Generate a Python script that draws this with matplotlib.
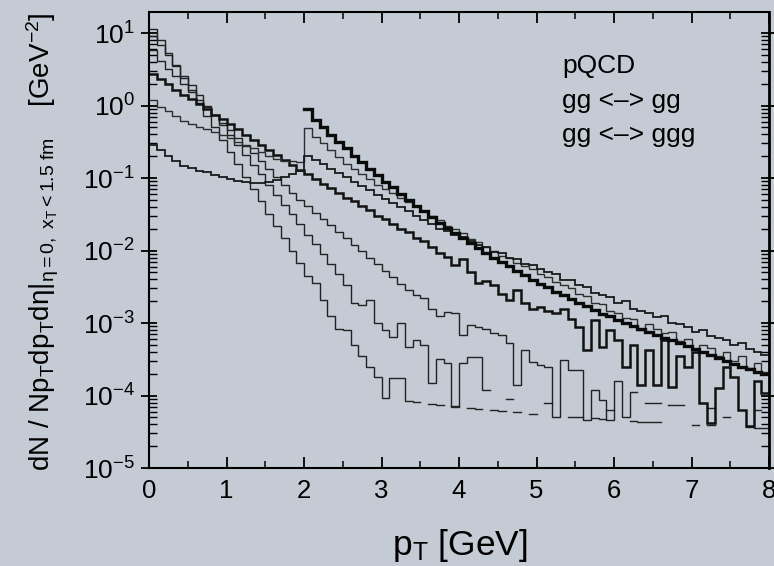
import numpy as np
import matplotlib
matplotlib.use("Agg")
import matplotlib.pyplot as plt
from matplotlib.ticker import LogLocator, NullFormatter, FuncFormatter, MultipleLocator

nan = np.nan

# bin width of all histograms (GeV)
bin_width = 0.1

# log10 of dN/(N pT dpT deta) per bin; nan = empty bin
# initial pQCD minijets (pT > 2 GeV)
t0_log = [-0.05, -0.20, -0.30, -0.40, -0.50, -0.59, -0.69, -0.78, -0.87, -0.96,
          -1.05, -1.13, -1.22, -1.30, -1.38, -1.46, -1.54, -1.62, -1.69, -1.76,
          -1.83, -1.90, -1.97, -2.03, -2.10, -2.16, -2.22, -2.28, -2.34, -2.40,
          -2.46, -2.51, -2.57, -2.62, -2.67, -2.72, -2.77, -2.82, -2.87, -2.91,
          -2.96, -3.00, -3.04, -3.08, -3.12, -3.16, -3.20, -3.24, -3.28, -3.32,
          -3.36, -3.40, -3.44, -3.48, -3.52, -3.56, -3.60, -3.64, -3.67, -3.71]
t0_start = 2.0

a_log = [0.07, -0.02, -0.08, -0.15, -0.22, -0.26, -0.29, -0.33, -0.37, -0.41,
         -0.45, -0.50, -0.54, -0.59, -0.64, -0.69, -0.74, -0.77, -0.76, -0.78,
         -0.31, -0.43, -0.52, -0.62, -0.71, -0.80, -0.88, -0.95, -1.02, -1.09,
         -1.15, -1.21, -1.27, -1.33, -1.39, -1.45, -1.52, -1.58, -1.66, -1.71,
         -1.76, -1.84, -1.88, -1.95, -2.00, -2.07, -2.10, -2.17, -2.22, -2.26,
         -2.33, -2.36, -2.44, -2.47, -2.52, -2.60, -2.63, -2.72, -2.74, -2.83,
         -2.86, -2.93, -2.95, -3.10, -3.02, -3.08, -3.14, -3.12, -3.25, -3.22,
         -3.37, -3.30, -3.34, -3.46, -3.40, -3.52, -3.45, -3.62, -3.55, -3.68]

b_log = [-0.55, -0.62, -0.70, -0.76, -0.83, -0.86, -0.90, -0.92, -0.96, -0.99,
         -1.02, -1.04, -1.06, -1.07, -1.07, -1.06, -1.03, -0.99, -0.95, -0.90,
         -0.69, -0.75, -0.81, -0.87, -0.93, -0.99, -1.05, -1.11, -1.17, -1.23,
         -1.29, -1.34, -1.40, -1.46, -1.52, -1.58, -1.63, -1.70, -1.73, -1.79,
         -1.82, -1.87, -1.92, -1.95, -2.02, -2.04, -2.10, -2.12, -2.19, -2.20,
         -2.26, -2.30, -2.33, -2.40, -2.41, -2.48, -2.50, -2.58, -2.61, -2.64,
         -2.72, -2.70, -2.80, -2.83, -2.86, -2.92, -2.90, -3.00, -3.02, -3.05,
         -3.12, -3.10, -3.18, -3.20, -3.24, -3.30, -3.27, -3.36, -3.40, -3.44]

c_log = [0.44, 0.37, 0.30, 0.22, 0.15, 0.09, 0.02, -0.05, -0.13, -0.19,
         -0.26, -0.33, -0.40, -0.47, -0.54, -0.61, -0.68, -0.75, -0.82, -0.89,
         -0.95, -1.01, -1.08, -1.14, -1.20, -1.27, -1.32, -1.39, -1.44, -1.52,
         -1.57, -1.63, -1.70, -1.74, -1.83, -1.87, -1.95, -2.03, -2.09, -2.20,
         -2.12, -2.30, -2.45, -2.42, -2.47, -2.60, -2.68, -2.55, -2.73, -2.80,
         -2.78, -2.84, -2.86, -2.80, -2.95, -3.06, -3.37, -2.96, -3.33, -3.10,
         -3.23, -3.60, -3.30, -3.86, -3.37, -3.85, -3.23, -3.88, -3.45, -3.60,
         -3.40, -4.10, -4.38, -3.90, -3.60, -3.75, -4.20, -4.42, -3.80, -3.97]

d_log = [0.77, 0.62, 0.51, 0.41, 0.30, 0.19, 0.08, -0.02, -0.13, -0.24,
         -0.34, -0.45, -0.56, -0.66, -0.77, -0.88, -0.98, -1.09, -1.20, -1.30,
         -1.39, -1.48, -1.56, -1.65, -1.74, -1.83, -1.92, -2.01, -2.10, -2.19,
         -2.28, -2.37, -2.46, -2.55, -2.62, -2.66, -2.80, -2.91, -2.85, -2.86,
         -3.17, -3.03, -3.05, -3.08, -3.14, -3.16, -3.28, -3.85, -3.37, -3.54,
         -3.58, -3.60, -4.30, -3.51, -3.65, -3.65, -4.34, -3.92, -4.06, -4.34,
         -3.80, -4.30, -3.95, nan, -4.10, -4.10, nan, -4.13, -4.13, nan,
         nan, nan, -4.17, nan, nan, nan, nan, nan, -4.20, nan]

e_log = [0.96, 0.83, 0.69, 0.55, 0.41, 0.28, 0.14, 0.00, -0.13, -0.27,
         -0.41, -0.54, -0.68, -0.82, -0.95, -1.09, -1.23, -1.37, -1.50, -1.64,
         -1.78, -1.91, -2.05, -2.19, -2.32, -2.48, -2.72, -2.75, -2.68, -3.00,
         -3.10, -3.19, -3.00, -3.33, -3.24, -3.30, -3.83, -3.50, -3.55, -4.16,
         -3.55, -3.47, -3.47, -3.93, nan, nan, -4.05, nan, nan, nan,
         nan, -4.10, nan, nan, nan, nan, nan, nan, nan, -4.20,
         nan, nan, nan, nan, nan, nan, nan, nan, nan, nan,
         nan, nan, nan, nan, -4.30, nan, nan, nan, nan, nan]

f_log = [1.06, 0.90, 0.72, 0.56, 0.38, 0.21, 0.04, -0.14, -0.30, -0.47,
         -0.64, -0.81, -0.98, -1.15, -1.32, -1.49, -1.66, -1.83, -2.00, -2.17,
         -2.35, -2.45, -2.68, -2.90, -3.08, -3.10, -3.30, -3.45, -3.60, -3.74,
         -4.03, -3.76, -3.76, -4.07, -4.09, nan, -4.12, -4.13, nan, -4.15,
         nan, -4.17, -4.18, nan, -4.20, -4.21, nan, -4.23, nan, -4.25,
         nan, nan, nan, nan, -4.29, -4.30, nan, -4.31, -4.32, nan,
         nan, nan, -4.35, -4.36, -4.36, -4.37, nan, nan, nan, nan,
         -4.40, nan, -4.41, nan, nan, nan, nan, -4.44, -4.45, -4.45]

annotation_lines = ["pQCD", "gg <\u2013> gg", "gg <\u2013> ggg"]
x_ticks = [0, 1, 2, 3, 4, 5, 6, 7, 8]

bg = "#c4cbd4"
plt.rcParams["font.family"] = ["Liberation Sans", "DejaVu Sans"]
plt.rcParams["mathtext.fontset"] = "custom"
plt.rcParams["mathtext.rm"] = "Liberation Sans"
plt.rcParams["mathtext.it"] = "Liberation Sans:italic"

fig = plt.figure(figsize=(7.74, 5.66), dpi=100, facecolor=bg)
ax = fig.add_axes([149 / 774, 1 - 468 / 566, 620 / 774, 456 / 566])
ax.set_facecolor(bg)


def draw(logs, start, lw, color):
    vals = 10.0 ** np.array(logs, dtype=float)
    n = len(vals)
    edges = start + np.arange(n + 1) * bin_width
    yy = np.append(vals, vals[-1])
    ax.step(edges, yy, where="post", lw=lw, color=color, solid_joinstyle="miter")


draw(f_log, 0.0, 1.0, "#222222")
draw(e_log, 0.0, 1.0, "#222222")
draw(d_log, 0.0, 1.0, "#222222")
draw(c_log, 0.0, 1.8, "#111111")
draw(a_log, 0.0, 1.0, "#2e2e2e")
draw(b_log, 0.0, 1.3, "#1a1a1a")
draw(t0_log, t0_start, 2.4, "#0a0a0a")

ax.set_yscale("log")
ax.set_xlim(0, 8)
ax.set_ylim(1e-5, 10 ** 1.29)

ax.xaxis.set_minor_locator(MultipleLocator(0.5))
ax.set_xticks(x_ticks)
ax.yaxis.set_major_locator(LogLocator(base=10, numticks=20))
ax.yaxis.set_minor_locator(LogLocator(base=10, subs=np.arange(2, 10), numticks=100))
ax.yaxis.set_minor_formatter(NullFormatter())
ax.yaxis.set_major_formatter(FuncFormatter(
    lambda v, p: r"$\mathregular{10^{%d}}$" % int(round(np.log10(v)))))

ax.tick_params(axis="x", which="major", direction="in", length=8, width=1.3,
               top=True, labelsize=18.5, pad=8)
ax.tick_params(axis="x", which="minor", direction="in", length=5, width=1.1, top=True)
ax.tick_params(axis="y", which="major", direction="inout", length=12, width=1.3,
               right=True, labelsize=19, pad=4)
ax.tick_params(axis="y", which="minor", direction="in", length=6, width=1.0, right=True)

for s in ax.spines.values():
    s.set_linewidth(1.5)
    s.set_color("black")
ax.spines["right"].set_linewidth(2.0)

fig.text(460 / 774, 1 - 545 / 566, r"p$_\mathregular{T}$ [GeV]",
         ha="center", va="center", fontsize=25.5)

fig.text(43 / 774, 1 - 242 / 566,
         r"$\mathregular{dN\ /\ Np_T dp_T d\eta|_{\eta=0,\ x_T<1.5\ fm}\ \ \ \ [GeV^{-2}]}$",
         rotation=90, ha="center", va="center", fontsize=20)

for txt, yy in zip(annotation_lines, [66, 101, 135]):
    fig.text(562 / 774, 1 - yy / 566, txt, ha="left", va="center", fontsize=19)

fig.savefig("out.png", dpi=100, facecolor=bg)
